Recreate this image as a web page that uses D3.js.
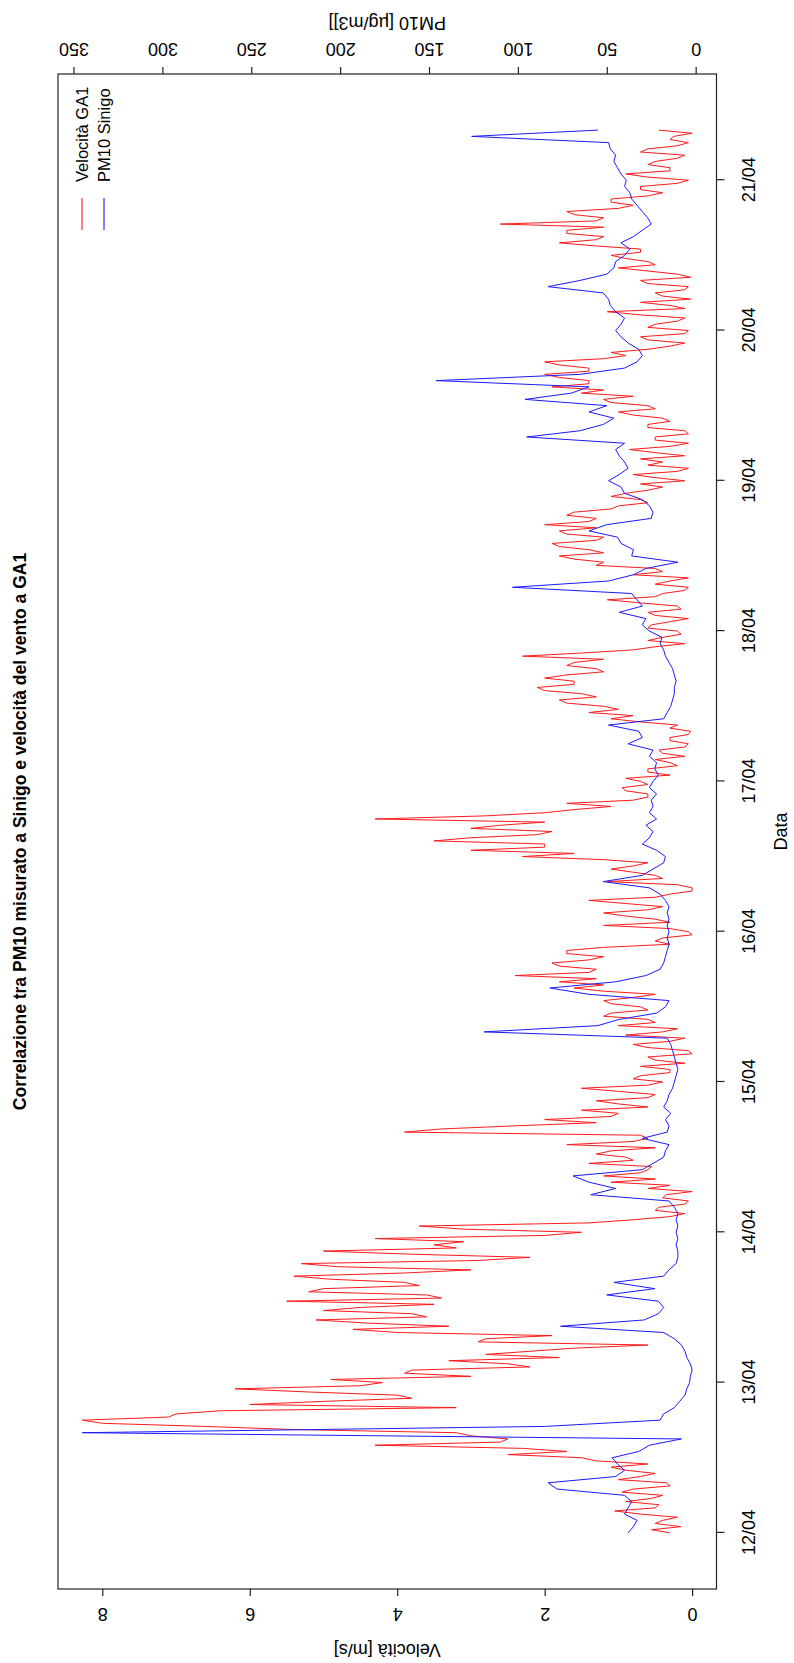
<!DOCTYPE html>
<html>
<head>
<meta charset="utf-8">
<script src="https://cdn.jsdelivr.net/npm/d3@7"></script>
<style>
  html, body { margin: 0; padding: 0; background: #ffffff; }
  svg { display: block; }
  text { font-family: "Liberation Sans", Arial, Helvetica, sans-serif; fill: #000; }
</style>
</head>
<body>
<svg id="chart" width="794" height="1663"></svg>
<script>
// Both series start on 12/04 at 00:00
const startDay = "12/04";
const YEAR = 2010;
const velStepMinutes = 30;   // wind speed sampled every half hour
const pmStepMinutes = 60;    // PM10 sampled every hour

// Wind speed at GA1 [m/s], half-hourly (each row = 5 hours)
const velocita = [
  0.3, 0.55, 0.15, 0.5, 0.4, 0.2, 0.7, 1.05, 0.5, 0.45,
  0.9, 0.55, 0.4, 0.95, 0.8, 0.3, 0.35, 1.0, 0.7, 0.5,
  0.9, 1.1, 0.6, 1.3, 1.5, 2.5, 1.7, 2.3, 4.3, 2.6,
  2.5, 3.0, 3.2, 5.4, 6.6, 8.0, 8.27, 7.1, 7.0, 6.4,
  3.2, 6.0, 5.0, 3.8, 4.0, 5.2, 6.2, 4.5, 4.2, 4.9,
  3.0, 3.9, 3.8, 2.2, 2.5, 3.3, 1.8, 2.8, 2.2, 1.6,
  0.6, 2.9, 2.8, 1.9, 4.0, 4.6, 3.3, 4.4, 5.1, 3.6,
  3.8, 5.0, 4.5, 3.5, 5.5, 3.4, 3.6, 5.2, 5.0, 3.7,
  3.9, 4.9, 5.4, 3.9, 3.0, 4.8, 5.3, 2.9, 2.2, 3.8,
  5.0, 3.2, 3.5, 3.1, 4.3, 2.0, 1.5, 3.1, 3.7, 1.4,
  0.8, 0.3, 0.1, 0.5, 0.45, 0.1, 0.05, 0.4, 0.35, 0.0,
  0.6, 0.3, 1.1, 0.5, 1.2, 0.7, 0.6, 0.55, 1.4, 0.8,
  0.9, 1.3, 1.1, 0.5, 1.7, 0.8, 0.6, 0.7, 3.9, 3.4,
  2.4, 1.3, 2.0, 1.1, 1.0, 1.5, 0.6, 1.0, 1.3, 0.6,
  0.5, 1.0, 1.5, 0.6, 0.4, 0.8, 0.7, 0.3, 0.3, 0.7,
  0.1, 0.5, 0.6, 0.0, 0.05, 0.6, 0.8, 0.3, 0.1, 0.9,
  0.4, 0.2, 1.0, 0.5, 0.6, 1.2, 1.1, 0.6, 0.7, 1.1,
  1.2, 0.8, 0.5, 1.2, 1.6, 1.2, 1.8, 1.3, 2.4, 1.4,
  1.3, 1.8, 1.9, 1.4, 1.2, 1.7, 1.7, 1.2, 0.3, 0.5,
  0.4, 0.0, 0.05, 0.3, 1.2, 0.3, 0.5, 0.9, 1.2, 0.6,
  0.4, 0.9, 1.4, 0.5, 0.3, 0.0, 0.0, 0.2, 1.15, 0.4,
  0.5, 0.8, 1.1, 0.8, 0.6, 1.2, 2.3, 1.6, 3.0, 2.0,
  2.0, 3.5, 3.0, 2.1, 1.9, 3.0, 2.6, 2.0, 4.3, 2.8,
  2.0, 1.6, 1.1, 1.7, 0.8, 0.6, 0.6, 0.9, 0.95, 0.6,
  0.7, 0.9, 0.3, 0.6, 0.6, 0.2, 0.3, 0.5, 0.1, 0.4,
  0.45, 0.1, 0.05, 0.3, 0.3, 0.05, 0.02, 0.3, 0.2, 0.7,
  1.1, 0.8, 1.4, 1.0, 1.2, 1.7, 1.8, 1.3, 1.5, 2.0,
  2.1, 1.6, 1.6, 2.0, 1.7, 1.2, 1.3, 1.7, 1.6, 1.2,
  2.3, 1.5, 0.8, 0.5, 0.1, 0.6, 0.4, 0.15, 0.2, 0.6,
  0.55, 0.3, 0.05, 0.5, 0.6, 0.15, 0.2, 0.7, 1.15, 0.5,
  0.4, 0.1, 0.05, 0.5, 0.3, 0.05, 0.8, 0.4, 0.5, 1.3,
  1.2, 1.6, 1.8, 1.2, 1.4, 1.8, 1.9, 1.3, 1.2, 1.7,
  1.8, 1.3, 2.0, 1.4, 1.3, 1.7, 1.6, 1.1, 1.0, 0.6,
  0.7, 1.1, 0.9, 0.6, 0.4, 0.7, 0.1, 0.5, 0.8, 0.2,
  0.05, 0.6, 0.4, 0.7, 0.1, 0.5, 0.85, 0.3, 0.05, 0.5,
  0.5, 0.05, 0.1, 0.6, 0.6, 0.3, 0.4, 0.8, 1.0, 0.5,
  0.6, 1.1, 1.2, 0.8, 1.5, 1.2, 1.9, 1.4, 1.4, 1.8,
  2.0, 1.4, 1.4, 1.8, 2.0, 1.2, 0.9, 1.1, 0.6, 0.3,
  0.1, 0.6, 0.7, 0.1, 0.05, 0.6, 0.5, 0.2, 0.1, 0.7,
  1.15, 0.1, 0.3, 0.7, 0.02, 0.4, 0.5, 0.1, 0.05, 0.6,
  0.7, 0.02, 0.2, 0.6, 1.0, 0.5, 0.6, 0.9, 1.1, 0.7,
  0.7, 1.3, 1.8, 1.3, 1.2, 1.7, 1.7, 1.2, 2.6, 1.3,
  1.2, 1.6, 1.7, 1.0, 0.8, 1.1, 1.1, 0.6, 0.4, 0.7,
  0.7, 0.2, 0.05, 0.6, 0.9, 0.3, 0.3, 0.6, 0.5, 0.2,
  0.1, 0.7, 0.6, 0.2, 0.05, 0.3, 0.25, 0.0, 0.45
];

// PM10 at Sinigo [µg/m3], hourly
const pm10 = [
  38, 35, 33, 40, 38, 36, 40, 78, 83, 45,
  40, 44, 47, 32, 26, 8, 345, 85, 20, 18,
  12, 9, 6, 5, 3.4, 3, 2, 3, 5, 6,
  8, 12, 18, 76, 29, 21, 18, 21, 50, 23,
  46, 18, 15, 11, 10, 10, 11, 10, 11, 10,
  11, 10, 12, 15, 59, 45, 60, 69, 30, 24,
  18, 17, 15, 30, 16, 15, 17, 14, 18, 16,
  15, 13, 12, 11, 10, 11, 12, 13, 14, 16,
  119, 55, 43, 22, 17, 15, 60, 82, 45, 28,
  20, 18, 17, 16, 15, 16, 15, 16, 15, 16,
  15, 17, 20, 26, 52, 30, 24, 18, 17, 22,
  30, 26, 24, 28, 22, 26, 24, 25, 22, 26,
  24, 21, 23, 22, 26, 24, 38, 30, 32, 49,
  18, 16, 14, 13, 12, 12, 11, 12, 13, 15,
  17, 18, 20, 19, 26, 30, 28, 43, 30, 33,
  36, 103, 49, 35, 28, 10, 36, 35, 42, 44,
  60, 50, 25, 24, 26, 30, 40, 42, 49, 43,
  38, 40, 43, 45, 40, 95, 65, 52, 46, 60,
  50, 96, 70, 60, 146, 65, 40, 33, 30, 32,
  38, 42, 45, 42, 40, 45, 48, 49, 52, 83,
  65, 50, 46, 45, 40, 37, 42, 35, 30, 25,
  27, 30, 33, 36, 37, 40, 39, 42, 44, 46,
  45, 48, 49, 126, 55
];

const dayTicks = ["12/04", "13/04", "14/04", "15/04", "16/04", "17/04", "18/04", "19/04", "20/04", "21/04"];
const velTicks = [0, 2, 4, 6, 8];
const pmTicks = [0, 50, 100, 150, 200, 250, 300, 350];

const seriesNames = ["Velocità GA1", "PM10 Sinigo"];
const seriesColors = ["#ff1a1a", "#1a1aff"];

const titleText = "Correlazione tra PM10 misurato a Sinigo e velocità del vento a GA1";
const xTitle = "Data";
const yLeftTitle = "Velocità [m/s]";
const yRightTitle = "PM10 [µg/m3]]";

// ---- layout: the chart is laid out landscape, then turned onto the portrait page ----
const W = 1663, H = 794;
const box = { left: 74, right: 1589, top: 58, bottom: 716.5 };
const FONT = 18;

const svg = d3.select("#chart");
const g = svg.append("g").attr("transform", `translate(0,${W}) rotate(-90)`);

const parseDay = d3.timeParse("%d/%m/%Y");
const fmtDay = d3.timeFormat("%d/%m");
const t0 = parseDay(`${startDay}/${YEAR}`);
const velTimes = velocita.map((_, i) => d3.timeMinute.offset(t0, i * velStepMinutes));
const pmTimes = pm10.map((_, i) => d3.timeMinute.offset(t0, i * pmStepMinutes));

// axis limits widened by 4% on each side
function padRange([a, b]) { const d = (b - a) * 0.04; return [a - d, b + d]; }

const tExt = padRange(d3.extent(velTimes.concat(pmTimes), d => +d));
const x = d3.scaleTime().domain(tExt.map(v => new Date(v))).range([box.left, box.right]);
const yV = d3.scaleLinear().domain(padRange(d3.extent(velocita))).range([box.bottom, box.top]);
const yP = d3.scaleLinear().domain(padRange(d3.extent(pm10))).range([box.bottom, box.top]);

// series
const lineV = d3.line().x((d, i) => x(velTimes[i])).y(d => yV(d));
const lineP = d3.line().x((d, i) => x(pmTimes[i])).y(d => yP(d));

g.append("path").datum(velocita)
  .attr("d", lineV).attr("fill", "none")
  .attr("stroke", seriesColors[0]).attr("stroke-width", 1).attr("stroke-linejoin", "round");
g.append("path").datum(pm10)
  .attr("d", lineP).attr("fill", "none")
  .attr("stroke", seriesColors[1]).attr("stroke-width", 1).attr("stroke-linejoin", "round");

// frame
g.append("rect")
  .attr("x", box.left).attr("y", box.top)
  .attr("width", box.right - box.left).attr("height", box.bottom - box.top)
  .attr("fill", "none").attr("stroke", "#222").attr("stroke-width", 1.2);

// date axis
const xAxis = g.append("g").attr("transform", `translate(0,${box.bottom})`)
  .call(d3.axisBottom(x).tickValues(dayTicks.map(s => parseDay(`${s}/${YEAR}`)))
    .tickFormat(fmtDay).tickSize(8).tickPadding(18));
xAxis.select(".domain").remove();
xAxis.selectAll("line").attr("stroke", "#222").attr("stroke-width", 1.2);
xAxis.selectAll("text").attr("font-size", FONT).attr("font-family", null);

// velocity axis (left)
const yAxisL = g.append("g").attr("transform", `translate(${box.left},0)`)
  .call(d3.axisLeft(yV).tickValues(velTicks).tickSize(7));
yAxisL.select(".domain").remove();
yAxisL.selectAll("line").attr("stroke", "#222").attr("stroke-width", 1.2);
yAxisL.selectAll("text")
  .attr("x", null).attr("dy", "0.35em").attr("text-anchor", "middle")
  .attr("transform", "translate(-25,0) rotate(-90)")
  .attr("font-size", FONT).attr("font-family", null);

// PM10 axis (right)
const yAxisR = g.append("g").attr("transform", `translate(${box.right},0)`)
  .call(d3.axisRight(yP).tickValues(pmTicks).tickSize(7));
yAxisR.select(".domain").remove();
yAxisR.selectAll("line").attr("stroke", "#222").attr("stroke-width", 1.2);
yAxisR.selectAll("text")
  .attr("x", null).attr("dy", "0.35em").attr("text-anchor", "middle")
  .attr("transform", "translate(25,0) rotate(-90)")
  .attr("font-size", FONT).attr("font-family", null);

const midY = (box.top + box.bottom) / 2;
const midX = (box.left + box.right) / 2;

// titles
g.append("text").attr("x", midX).attr("y", 20).attr("dy", "0.35em")
  .attr("text-anchor", "middle").attr("font-size", 17.5).attr("font-weight", "bold")
  .text(titleText);
g.append("text").attr("x", midX).attr("y", 781).attr("dy", "0.35em")
  .attr("text-anchor", "middle").attr("font-size", FONT).text(xTitle);
g.append("text").attr("transform", `translate(13,${midY}) rotate(-90)`).attr("dy", "0.35em")
  .attr("text-anchor", "middle").attr("font-size", FONT).text(yLeftTitle);
g.append("text").attr("transform", `translate(1640,${midY}) rotate(-90)`).attr("dy", "0.35em")
  .attr("text-anchor", "middle").attr("font-size", FONT).text(yRightTitle);

// legend (top right of the plot, no frame)
const legend = g.append("g");
seriesNames.forEach((name, i) => {
  const yy = 82 + i * 22;
  legend.append("line").attr("x1", 1433).attr("x2", 1465).attr("y1", yy).attr("y2", yy)
    .attr("stroke", seriesColors[i]).attr("stroke-width", 1.1);
  legend.append("text").attr("x", 1481).attr("y", yy).attr("dy", "0.35em")
    .attr("font-size", 16.5).text(name);
});
</script>
</body>
</html>
